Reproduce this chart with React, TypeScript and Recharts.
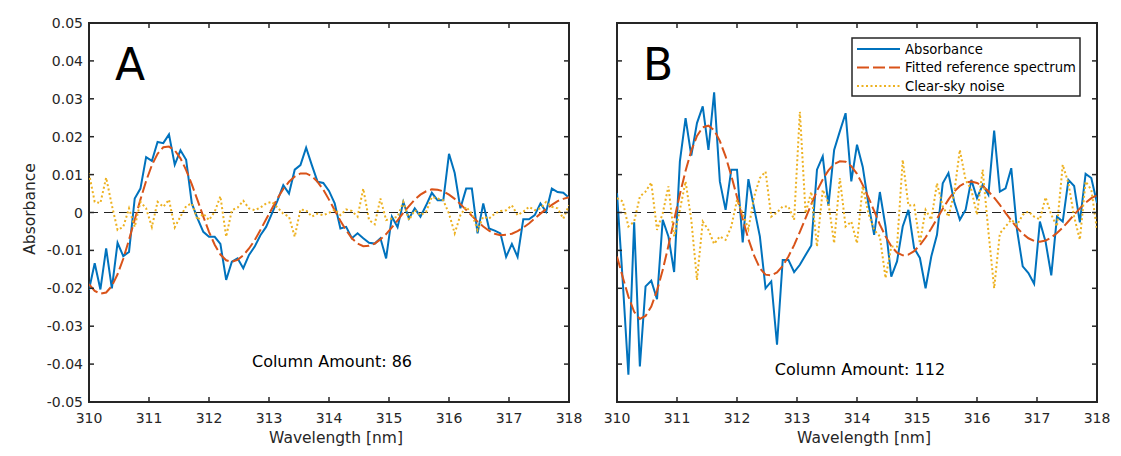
import { Line, LineChart, ReferenceArea, ReferenceLine, XAxis, YAxis } from "recharts";

// Wavelength grid shared by both retrievals (nm)
const wavelengths = [
  310.0, 310.095, 310.19, 310.286, 310.381, 310.476, 310.571, 310.667, 310.762, 310.857, 310.952,
  311.048, 311.143, 311.238, 311.333, 311.429, 311.524, 311.619, 311.714, 311.81, 311.905,
  312.0, 312.095, 312.19, 312.286, 312.381, 312.476, 312.571, 312.667, 312.762, 312.857, 312.952,
  313.048, 313.143, 313.238, 313.333, 313.429, 313.524, 313.619, 313.714, 313.81, 313.905,
  314.0, 314.095, 314.19, 314.286, 314.381, 314.476, 314.571, 314.667, 314.762, 314.857, 314.952,
  315.048, 315.143, 315.238, 315.333, 315.429, 315.524, 315.619, 315.714, 315.81, 315.905,
  316.0, 316.095, 316.19, 316.286, 316.381, 316.476, 316.571, 316.667, 316.762, 316.857, 316.952,
  317.048, 317.143, 317.238, 317.333, 317.429, 317.524, 317.619, 317.714, 317.81, 317.905,
  318.0,
];

const absorbanceA = [
  -0.0204, -0.0134, -0.0203, -0.0095, -0.02, -0.008, -0.0115, -0.0104, 0.0037, 0.0063,
  0.0146, 0.0136, 0.0186, 0.0183, 0.0206, 0.0126, 0.0164, 0.0139, 0.0024, -0.0016,
  -0.0051, -0.0064, -0.0064, -0.0083, -0.0178, -0.013, -0.0121, -0.0147, -0.0112, -0.009,
  -0.006, -0.0038, -0.0003, 0.0032, 0.0072, 0.005, 0.0113, 0.0125, 0.0171, 0.0125,
  0.0081, 0.0078, 0.0057, 0.0024, -0.0042, -0.0038, -0.0068, -0.0055, -0.0068, -0.008,
  -0.0082, -0.0068, -0.0121, -0.0011, -0.0039, 0.0028, -0.0016, 0.0011, -0.0011, 0.0019,
  0.0052, 0.0032, 0.0032, 0.0155, 0.0104, 0.0011, 0.0063, 0.0063, -0.0055, 0.0024,
  -0.0042, -0.0048, -0.0055, -0.0117, -0.0083, -0.0117, -0.0018, -0.0018, -0.0007, 0.0024,
  0.0002, 0.0063, 0.0054, 0.0052, 0.0039,
];

const fittedA = [
  -0.0189, -0.0207, -0.0214, -0.0211, -0.0194, -0.0163, -0.0122, -0.0072, -0.0019, 0.0034,
  0.0083, 0.0125, 0.0155, 0.0172, 0.0174, 0.0164, 0.0143, 0.0112, 0.0074, 0.0032,
  -0.0011, -0.0051, -0.0085, -0.0111, -0.0126, -0.013, -0.0125, -0.0113, -0.0095, -0.0073,
  -0.0046, -0.0018, 0.001, 0.0038, 0.0062, 0.0081, 0.0095, 0.0103, 0.0103, 0.0096,
  0.0081, 0.006, 0.0034, 0.0006, -0.0022, -0.0047, -0.0068, -0.0082, -0.0089, -0.0088,
  -0.0082, -0.0071, -0.0057, -0.0039, -0.0021, -0.0001, 0.0017, 0.0034, 0.0047, 0.0056,
  0.0061, 0.006, 0.0056, 0.0047, 0.0036, 0.0022, 0.0007, -0.0009, -0.0024, -0.0037,
  -0.0048, -0.0056, -0.006, -0.0059, -0.0056, -0.0049, -0.004, -0.0029, -0.0016, -0.0003,
  0.0009, 0.002, 0.003, 0.0036, 0.004,
];

const noiseA = [
  0.0103, 0.0028, 0.0025, 0.0092, 0.0019, -0.0046, -0.0038, 0.0011, -0.0038, 0.0028,
  0.0011, -0.0038, 0.0028, 0.0015, 0.0034, -0.0039, -0.0011, 0.0017, 0.0024, -0.002,
  -0.0003, -0.002, 0.0002, 0.0043, -0.0064, 0.0006, 0.0013, 0.0031, 0.0011, 0.0006,
  0.0013, 0.0024, 0.0028, 0.0013, -0.0003, -0.0011, -0.0064, 0.0008, 0.0006, -0.0011,
  -0.0003, -0.0007, -0.0001, 0.0008, -0.0007, 0.0008, 0.0004, -0.0011, 0.0063, -0.002,
  -0.0031, 0.0037, -0.002, -0.0016, -0.0011, 0.0028, -0.002, 0.0006, -0.0007, 0.0002,
  0.0041, 0.0037, 0.0032, -0.0003, -0.0055, -0.0007, 0.0015, -0.0003, -0.0046, -0.0011,
  -0.0016, -0.0003, 0.0004, 0.0006, 0.0019, -0.0007, 0.0002, 0.0015, 0.0006, 0.0011,
  0.0028, 0.0015, 0.0011, -0.0016, 0.0019,
];

const absorbanceB = [
  0.0051, -0.018, -0.0428, -0.0026, -0.0406, -0.0195, -0.018, -0.0229, -0.0019, -0.0063,
  -0.0157, 0.0135, 0.0249, 0.015, 0.0236, 0.028, 0.0165, 0.0317, 0.0082, 0.0007,
  0.0113, 0.0113, -0.0079, 0.0088, 0.0011, -0.0063, -0.02, -0.0182, -0.0349, -0.0125,
  -0.0125, -0.0157, -0.0138, -0.0112, -0.0087, 0.0113, 0.0148, 0.0018, 0.0165, 0.0214,
  0.0262, 0.0082, 0.0179, 0.0121, 0.0023, -0.0059, 0.0054, -0.0037, -0.0169, -0.0129,
  -0.0037, 0.0007, -0.0094, -0.012, -0.02, -0.0116, -0.0059, 0.0077, 0.0104, 0.0029,
  -0.0019, 0.0007, 0.0086, 0.0038, 0.0073, 0.0047, 0.0216, 0.0055, 0.0064, 0.0117,
  -0.0046, -0.0142, -0.016, -0.0188, -0.0024, -0.0077, -0.0166, -0.0011, -0.0024, 0.0086,
  0.007, -0.0026, 0.0102, 0.0091, 0.0025,
];

const fittedB = [
  -0.0116, -0.017, -0.0222, -0.0262, -0.0281, -0.0273, -0.0248, -0.0206, -0.0152, -0.0088,
  -0.002, 0.0048, 0.011, 0.0163, 0.0202, 0.0225, 0.0229, 0.0217, 0.0189, 0.0148,
  0.0097, 0.0041, -0.0017, -0.007, -0.0114, -0.0147, -0.0164, -0.0166, -0.0158, -0.0141,
  -0.0116, -0.0086, -0.0051, -0.0015, 0.0022, 0.0057, 0.0087, 0.0111, 0.0128, 0.0135,
  0.0134, 0.0122, 0.0102, 0.0073, 0.004, 0.0004, -0.0032, -0.0063, -0.0089, -0.0106,
  -0.0113, -0.0111, -0.0102, -0.0086, -0.0066, -0.0042, -0.0016, 0.001, 0.0034, 0.0055,
  0.007, 0.0079, 0.0082, 0.0078, 0.007, 0.0056, 0.0039, 0.002, -0.0001, -0.0021,
  -0.004, -0.0056, -0.0068, -0.0075, -0.0077, -0.0074, -0.0066, -0.0054, -0.004, -0.0023,
  -0.0006, 0.0011, 0.0026, 0.0038, 0.0046,
];

const noiseB = [
  0.0038, 0.0029, -0.0037, -0.0024, 0.0042, 0.0055, 0.0079, -0.0046, -0.0002, 0.0069,
  -0.0063, 0.0007, 0.0082, -0.0019, -0.0178, -0.0024, -0.0046, -0.0083, -0.0063, -0.0072,
  -0.0037, 0.0033, -0.0002, -0.0044, 0.0042, 0.0091, 0.0108, -0.0011, 0.0, 0.0016,
  0.0016, -0.0019, 0.0266, -0.0002, 0.0055, -0.009, 0.006, 0.0025, -0.0081, 0.0091,
  -0.0037, -0.0024, -0.0081, 0.0069, -0.0002, -0.0046, -0.0063, -0.0173, -0.009, -0.009,
  0.0139, 0.0018, 0.002, -0.0081, 0.0007, -0.0019, 0.0077, 0.0016, -0.0011, 0.0051,
  0.0165, 0.0086, 0.006, -0.0006, 0.0113, -0.005, -0.02, -0.0055, -0.0037, -0.0019,
  -0.0033, -0.0006, 0.0003, -0.0011, -0.0018, 0.004, -0.0006, -0.0037, 0.0126, 0.0077,
  -0.0011, -0.0072, 0.0082, 0.006, -0.0046,
];

const xTicks = [310, 311, 312, 313, 314, 315, 316, 317, 318];
const yTicks = [-0.05, -0.04, -0.03, -0.02, -0.01, 0, 0.01, 0.02, 0.03, 0.04, 0.05];
const seriesNames = ["Absorbance", "Fitted reference spectrum", "Clear-sky noise"];

const INK = "#262626";
const FONT = '"DejaVu Sans", Verdana, sans-serif';
const BLUE = "#0072BD";
const ORANGE = "#D95319";
const YELLOW = "#EDB120";

// plot box inside each chart's svg
const CHART_W = 594;
const CHART_H = 456;
const LEFT = 89;
const RIGHT = 569;
const TOP = 23;
const BOTTOM = 402;
const TICK = 5;

const fmtY = (v: number) => (v === 0 ? "0" : v.toFixed(2));

function XTick({ x, payload }: any) {
  return (
    <g>
      <line x1={x} x2={x} y1={BOTTOM} y2={BOTTOM - TICK} stroke={INK} strokeWidth={1.5} />
      <line x1={x} x2={x} y1={TOP} y2={TOP + TICK} stroke={INK} strokeWidth={1.5} />
      <text x={x} y={BOTTOM + 21} textAnchor="middle" fontSize={14} fill={INK}>
        {payload.value}
      </text>
    </g>
  );
}

function makeYTick(showLabels: boolean) {
  return function YTick({ y, payload }: any) {
    return (
      <g>
        <line x1={LEFT} x2={LEFT + TICK} y1={y} y2={y} stroke={INK} strokeWidth={1.5} />
        <line x1={RIGHT - TICK} x2={RIGHT} y1={y} y2={y} stroke={INK} strokeWidth={1.5} />
        {showLabels && (
          <text x={LEFT - 6} y={y + 5} textAnchor="end" fontSize={14} fill={INK}>
            {fmtY(payload.value)}
          </text>
        )}
      </g>
    );
  };
}

function LegendBox({ x, y }: { x: number; y: number }) {
  const rows = [
    { name: seriesNames[0], color: BLUE, dash: undefined },
    { name: seriesNames[1], color: ORANGE, dash: "12 4" },
    { name: seriesNames[2], color: YELLOW, dash: "2 2.5" },
  ];
  return (
    <g>
      <rect x={x} y={y} width={228} height={58} fill="#fff" stroke={INK} strokeWidth={1.5} />
      {rows.map((r, i) => {
        const cy = y + 11 + i * 18.5;
        return (
          <g key={r.name}>
            <line x1={x + 5} x2={x + 48} y1={cy} y2={cy} stroke={r.color} strokeWidth={2} strokeDasharray={r.dash} />
            <text x={x + 53} y={cy + 4.5} fontSize={13.2} fill="#000">
              {r.name}
            </text>
          </g>
        );
      })}
    </g>
  );
}

// texts and legend laid out relative to the plot box
function PanelOverlay(props: any) {
  const { viewBox, letter, amount, amountY, showYLabels, showLegend } = props;
  const { x, y, width } = viewBox;
  return (
    <g fontFamily={FONT}>
      <text x={x + 26} y={y + 57} fontSize={44} fill="#000">
        {letter}
      </text>
      <text x={x + 243} y={amountY} fontSize={16} textAnchor="middle" fill="#000">
        Column Amount: {amount}
      </text>
      <text x={x + width / 2 + 7} y={443} fontSize={15.5} textAnchor="middle" fill={INK}>
        Wavelength [nm]
      </text>
      {showYLabels && (
        <text transform="translate(35,209) rotate(-90)" fontSize={15.5} textAnchor="middle" fill={INK}>
          Absorbance
        </text>
      )}
      {showLegend && <LegendBox x={x + 235} y={y + 15} />}
    </g>
  );
}

type PanelProps = {
  letter: string;
  amount: number;
  amountY: number;
  absorbance: number[];
  fitted: number[];
  noise: number[];
  showYLabels: boolean;
  showLegend: boolean;
};

function Panel({ letter, amount, amountY, absorbance, fitted, noise, showYLabels, showLegend }: PanelProps) {
  const rows = wavelengths.map((w, i) => ({ w, abs: absorbance[i], fit: fitted[i], noise: noise[i] }));
  return (
    <LineChart
      width={CHART_W}
      height={CHART_H}
      data={rows}
      margin={{ top: TOP, right: CHART_W - RIGHT, bottom: CHART_H - BOTTOM - 30, left: 0 }}
      style={{ fontFamily: FONT }}
    >
      <XAxis
        type="number"
        dataKey="w"
        domain={[310, 318]}
        ticks={xTicks}
        allowDataOverflow
        axisLine={false}
        tickLine={false}
        height={30}
        tick={<XTick />}
        interval={0}
      />
      <YAxis
        type="number"
        domain={[-0.05, 0.05]}
        ticks={yTicks}
        allowDataOverflow
        axisLine={false}
        tickLine={false}
        width={LEFT}
        tick={makeYTick(showYLabels)}
        interval={0}
      />
      <ReferenceLine y={0} stroke="#222" strokeWidth={1} strokeDasharray="9 6" />
      <Line type="linear" dataKey="abs" name={seriesNames[0]} stroke={BLUE} strokeWidth={2} dot={false} isAnimationActive={false} />
      <Line
        type="linear"
        dataKey="fit"
        name={seriesNames[1]}
        stroke={ORANGE}
        strokeWidth={2}
        strokeDasharray="12 4"
        dot={false}
        isAnimationActive={false}
      />
      <Line
        type="linear"
        dataKey="noise"
        name={seriesNames[2]}
        stroke={YELLOW}
        strokeWidth={2}
        strokeDasharray="2 2.5"
        dot={false}
        isAnimationActive={false}
      />
      <ReferenceArea
        x1={310}
        x2={318}
        y1={-0.05}
        y2={0.05}
        fill="none"
        fillOpacity={0}
        stroke={INK}
        strokeWidth={2}
        label={
          <PanelOverlay
            letter={letter}
            amount={amount}
            amountY={amountY}
            showYLabels={showYLabels}
            showLegend={showLegend}
          />
        }
      />
    </LineChart>
  );
}

export default function App() {
  return (
    <div
      style={{
        position: "absolute",
        left: 0,
        top: 0,
        width: 1121,
        height: 456,
        overflow: "hidden",
        background: "#fff",
        fontFamily: FONT,
      }}
    >
      <div style={{ position: "absolute", left: 0, top: 0 }}>
        <Panel
          letter="A"
          amount={86}
          amountY={367}
          absorbance={absorbanceA}
          fitted={fittedA}
          noise={noiseA}
          showYLabels
          showLegend={false}
        />
      </div>
      <div style={{ position: "absolute", left: 528, top: 0 }}>
        <Panel
          letter="B"
          amount={112}
          amountY={375}
          absorbance={absorbanceB}
          fitted={fittedB}
          noise={noiseB}
          showYLabels={false}
          showLegend
        />
      </div>
    </div>
  );
}
